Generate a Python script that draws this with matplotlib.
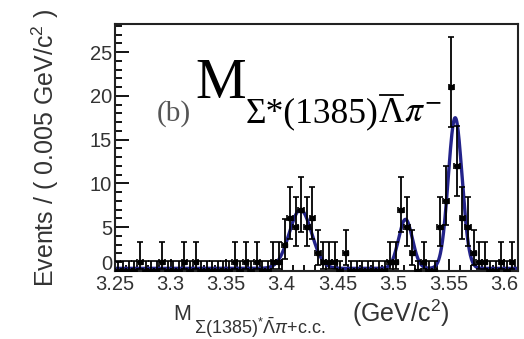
import numpy as np
import matplotlib
matplotlib.use("Agg")
import matplotlib.pyplot as plt
import matplotlib.transforms as mtransforms
from matplotlib.lines import Line2D
from matplotlib.ticker import MultipleLocator, FixedLocator, FixedFormatter

plt.rcParams['font.family'] = ['Liberation Sans', 'DejaVu Sans']
plt.rcParams['mathtext.fontset'] = 'custom'
plt.rcParams['mathtext.rm'] = 'Liberation Sans'
plt.rcParams['mathtext.it'] = 'Liberation Sans:italic'
plt.rcParams['mathtext.bf'] = 'Liberation Sans:bold'

# ---- data ----
bin_start = 3.25
bin_width = 0.005
# counts per 0.005 GeV bin, starting at 3.25
counts = [0, 0, 0, 0, 1, 0, 0, 0, 1, 0,
          0, 0, 1, 0, 1, 0, 0, 0, 0, 0,
          0, 1, 0, 1, 0, 1, 0, 0, 1, 1,
          3, 6, 5, 7, 5, 6, 2, 1, 1, 1,
          0, 2, 0, 0, 0, 0, 0, 0, 0, 1,
          1, 7, 5, 2, 0, 1, 0, 0, 5, 8,
          21, 12, 6, 5, 2, 1, 1, 0, 0, 1,
          0, 1]

# fit model parameters (three peaks + flat background)
fit_means = [3.4168, 3.5113, 3.5560]
fit_sigmas = [0.0100, 0.0062, 0.0062]
fit_heights = [6.7, 5.6, 17.2]
fit_background = 0.3

x_ticks = [3.25, 3.30, 3.35, 3.40, 3.45, 3.50, 3.55, 3.60]
x_tick_labels = ["3.25", "3.3", "3.35", "3.4", "3.45", "3.5", "3.55", "3.6"]
y_ticks = [0, 5, 10, 15, 20, 25]
y_tick_labels = ["0", "5", "10", "15", "20", "25"]

# ---- figure ----
W, H = 524, 339
fig = plt.figure(figsize=(W / 100, H / 100), dpi=100)
ax = fig.add_axes([115 / W, 1 - 271 / H, 403 / W, 247 / H])

n = np.array(counts, dtype=float)
centers = bin_start + bin_width * (np.arange(len(counts)) + 0.5)
# Poisson (Gehrels) intervals
nn = np.maximum(n, 1)
upper = np.where(n > 0, n + np.sqrt(n + 0.75) + 1, 1.147)
lower = np.where(n > 0, n * (1 - 1 / (9 * nn) - 1 / (3 * np.sqrt(nn))) ** 3, 0)
yerr = np.vstack([n - lower, upper - n])

xf = np.linspace(3.25, 3.6125, 1500)
yf = np.full_like(xf, fit_background)
for m, s, h in zip(fit_means, fit_sigmas, fit_heights):
    yf = yf + h * np.exp(-0.5 * ((xf - m) / s) ** 2)
ax.plot(xf, yf, color='#23238a', lw=2.4, zorder=2, clip_on=True)

ax.errorbar(centers, n, yerr=yerr, xerr=bin_width / 2, fmt='s', ms=3.2,
            color='black', ecolor='black', elinewidth=1.3, capsize=2.3,
            capthick=1.2, zorder=3, clip_on=True)

ax.set_xlim(3.25, 3.6125)
ax.set_ylim(0, 28.2)

ax.xaxis.set_major_locator(FixedLocator(x_ticks))
ax.xaxis.set_major_formatter(FixedFormatter(x_tick_labels))
ax.xaxis.set_minor_locator(MultipleLocator(0.01))
ax.yaxis.set_major_locator(FixedLocator(y_ticks))
ax.yaxis.set_major_formatter(FixedFormatter(y_tick_labels))
ax.yaxis.set_minor_locator(MultipleLocator(1))

ax.tick_params(axis='both', which='both', direction='in', top=False, right=False,
               colors='black', labelcolor='#333333', labelsize=14.5, width=1.3)
ax.tick_params(axis='y', which='major', length=10, pad=2)
ax.tick_params(axis='y', which='minor', length=5)
ax.tick_params(axis='x', which='major', length=9, pad=3)
ax.tick_params(axis='x', which='minor', length=4.5)
for sp in ax.spines.values():
    sp.set_linewidth(1.5)
    sp.set_color('#222222')

# nudge the "0" label up a little so it does not collide with "3.25"
fig.canvas.draw()
zero_lbl = ax.yaxis.get_majorticklabels()[0]
zero_lbl.set_transform(zero_lbl.get_transform() +
                       mtransforms.ScaledTranslation(0, 8 / 100, fig.dpi_scale_trans))

# ---- texts ----
def fx(px):
    return px / W

def fy(py):
    return 1 - py / H

fig.text(fx(45), fy(148), 'Events / ( 0.005 GeV/c$^{2}$ )', rotation=90,
         ha='center', va='center', fontsize=18, color='#333333')

fig.text(fx(173), fy(320), 'M', fontsize=15.5, color='#333333', ha='left', va='baseline')
fig.text(fx(194), fy(334), r'$\Sigma(1385)^{*}\bar{\Lambda}\pi$+c.c.', fontsize=13,
         color='#333333', ha='left', va='baseline')
fig.text(fx(352), fy(322), '(GeV/c$^{2}$)', fontsize=18, color='#333333',
         ha='left', va='baseline')

serif = ['Liberation Serif', 'DejaVu Serif']
fig.text(fx(157), fy(121), '(b)', fontsize=21, color='#555555', ha='left',
         va='baseline', family=serif)
fig.text(fx(195), fy(98), 'M', fontsize=41, color='black', ha='left',
         va='baseline', family=serif)

# subscript built piece by piece: Σ*(1385) Λ(with bar) π⁻
renderer = fig.canvas.get_renderer()
t1 = fig.text(fx(246), fy(122), 'Σ*(1385)', fontsize=25.5, color='black',
              ha='left', va='baseline', family=serif)
bb1 = t1.get_window_extent(renderer)
t2 = fig.text(bb1.x1 / W, fy(122), 'Λ', fontsize=25.5, color='black',
              ha='left', va='baseline', family=serif)
bb2 = t2.get_window_extent(renderer)
bar_y = fy(95)
fig.add_artist(Line2D([(bb2.x0 + 1.5) / W, (bb2.x1 - 1.5) / W], [bar_y, bar_y],
                      transform=fig.transFigure, color='black', lw=1.3))
fig.text(bb2.x1 / W, fy(122), r'$\pi^{-}$', fontsize=25.5, color='black',
         ha='left', va='baseline', family=serif, math_fontfamily='stix')

fig.savefig('out.png', dpi=100)
